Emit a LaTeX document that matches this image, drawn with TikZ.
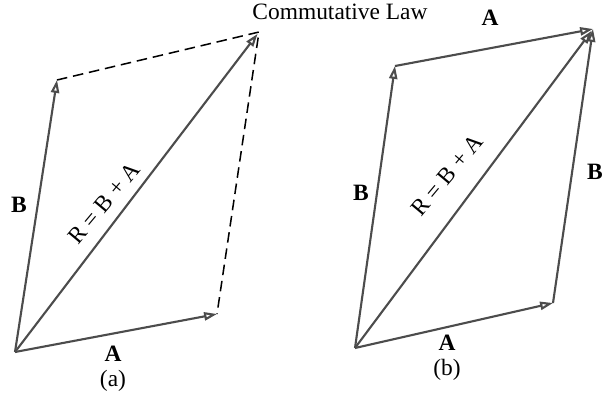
\documentclass[tikz,border=0pt]{standalone}
\usepackage{fontspec}
\setmainfont{Liberation Serif}
\usetikzlibrary{arrows.meta}
\begin{document}
\begin{tikzpicture}[x=0.03cm,y=-0.03cm,>={Triangle[open,length=11pt,width=7pt]},
  every node/.append style={font=\fontsize{20}{24}\selectfont},
  vec/.style={->,draw=black!70,line width=1.8pt},
  guide/.style={line width=1.3pt,dash pattern=on 9pt off 5pt},
  lbl/.style={font=\fontsize{20}{24}\selectfont\bfseries}]
  \useasboundingbox (0,0) rectangle (606,408);
  \node (title) at (340,12) {Commutative Law};

  % (a)
  \coordinate (Oa) at (15,352);
  \coordinate (Aa) at (217,314);
  \coordinate (Ba) at (57,80);
  \coordinate (Ca) at (259,32);
  \draw[guide] (Ba) -- (Ca) -- (Aa);
  \draw[vec] (Oa) -- (Aa);
  \draw[vec] (Oa) -- (Ba);
  \draw[vec,shorten >=2pt] (Oa) -- (Ca);
  \node[lbl] (Bla) at (19,205) {B};
  \node[lbl] (Ala) at (113,354) {A};
  \node[rotate=50,inner sep=0pt] (Rla) at (104,203) {R = B + A};
  \node (capa) at (113,381) {(a)};

  % (b)
  \coordinate (Ob) at (355,348);
  \coordinate (Ab) at (553,303);
  \coordinate (Bb) at (395,66);
  \coordinate (Cb) at (593,29);
  \draw[vec] (Ob) -- (Ab);
  \draw[vec] (Ob) -- (Bb);
  \draw[vec] (Bb) -- (Cb);
  \draw[vec] (Ab) -- (Cb);
  \draw[vec,shorten >=2pt] (Ob) -- (Cb);
  \node[lbl] (Blb) at (361,193) {B};
  \node[lbl] (Brb) at (595,172) {B};
  \node[lbl] (Atb) at (490,18) {A};
  \node[lbl] (Abb) at (447,343) {A};
  \node[rotate=50,inner sep=0pt] (Rlb) at (447,175) {R = B + A};
  \node (capb) at (447,370) {(b)};
\end{tikzpicture}
\end{document}
